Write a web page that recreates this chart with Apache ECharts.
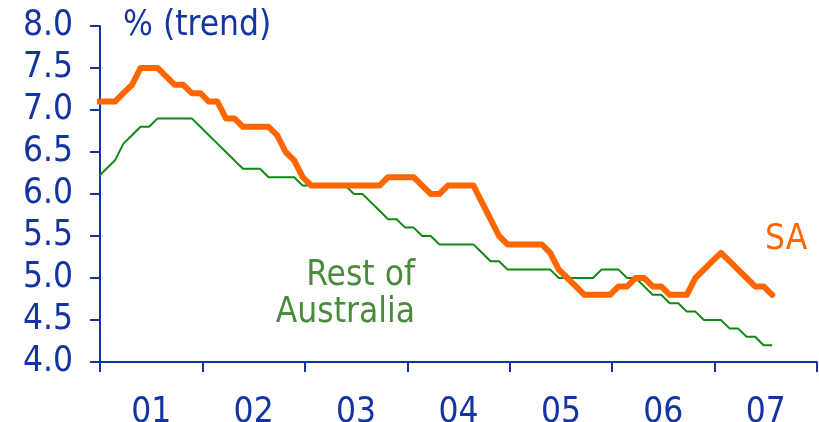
<!DOCTYPE html>
<html>
<head>
<meta charset="utf-8">
<script src="https://cdn.jsdelivr.net/npm/echarts@6/dist/echarts.min.js"></script>
<style>
  html, body { margin: 0; padding: 0; background: #fff; }
  #chart { width: 819px; height: 422px; }
</style>
</head>
<body>
<div id="chart"></div>
<script>
// year labels on the x axis
var years = ['01', '02', '03', '04', '05', '06', '07'];
// monthly trend values, %
var sa = [
  7.1, 7.1, 7.1, 7.2, 7.3, 7.5, 7.5, 7.5, 7.4, 7.3, 7.3, 7.2,
  7.2, 7.1, 7.1, 6.9, 6.9, 6.8, 6.8, 6.8, 6.8, 6.7, 6.5, 6.4,
  6.2, 6.1, 6.1, 6.1, 6.1, 6.1, 6.1, 6.1, 6.1, 6.1, 6.2, 6.2,
  6.2, 6.2, 6.1, 6.0, 6.0, 6.1, 6.1, 6.1, 6.1, 5.9, 5.7, 5.5,
  5.4, 5.4, 5.4, 5.4, 5.4, 5.3, 5.1, 5.0, 4.9, 4.8, 4.8, 4.8,
  4.8, 4.9, 4.9, 5.0, 5.0, 4.9, 4.9, 4.8, 4.8, 4.8, 5.0, 5.1,
  5.2, 5.3, 5.2, 5.1, 5.0, 4.9, 4.9, 4.8
];
var rest = [
  6.2, 6.3, 6.4, 6.6, 6.7, 6.8, 6.8, 6.9, 6.9, 6.9, 6.9, 6.9,
  6.8, 6.7, 6.6, 6.5, 6.4, 6.3, 6.3, 6.3, 6.2, 6.2, 6.2, 6.2,
  6.1, 6.1, 6.1, 6.1, 6.1, 6.1, 6.0, 6.0, 5.9, 5.8, 5.7, 5.7,
  5.6, 5.6, 5.5, 5.5, 5.4, 5.4, 5.4, 5.4, 5.4, 5.3, 5.2, 5.2,
  5.1, 5.1, 5.1, 5.1, 5.1, 5.1, 5.0, 5.0, 5.0, 5.0, 5.0, 5.1,
  5.1, 5.1, 5.0, 5.0, 4.9, 4.8, 4.8, 4.7, 4.7, 4.6, 4.6, 4.5,
  4.5, 4.5, 4.4, 4.4, 4.3, 4.3, 4.2, 4.2
];

var blue = '#1434a4';
var font = 'DejaVu Sans Condensed';
var textFont = '35px "DejaVu Sans Condensed"';

function pairs(arr) {
  return arr.map(function (v, i) { return [i, v]; });
}

var chart = echarts.init(document.getElementById('chart'));

var option = {
  animation: false,
  grid: { left: 100, right: 2, top: 26, bottom: 60, containLabel: false, outerBoundsMode: 'none' },
  xAxis: [
    {
      type: 'category',
      data: years,
      boundaryGap: true,
      axisLine: { show: true, lineStyle: { color: blue, width: 2 } },
      axisTick: { show: true, length: 10, lineStyle: { color: blue, width: 2 } },
      axisLabel: { color: blue, fontSize: 35, fontFamily: font, margin: 33 },
      splitLine: { show: false }
    },
    {
      type: 'value',
      min: 0.25,
      max: 84.25,
      show: false
    }
  ],
  yAxis: {
    type: 'value',
    min: 4,
    max: 8,
    interval: 0.5,
    axisLine: { show: true, lineStyle: { color: blue, width: 2 } },
    axisTick: { show: true, length: 10, lineStyle: { color: blue, width: 2 } },
    axisLabel: {
      color: blue, fontSize: 35, fontFamily: font, margin: 27,
      formatter: function (v) { return v.toFixed(1); }
    },
    splitLine: { show: false }
  },
  graphic: [
    { type: 'text', x: 123, y: 26, style: { text: '% (trend)', fill: blue, font: textFont, verticalAlign: 'middle' } },
    { type: 'text', x: 765, y: 240, style: { text: 'SA', fill: '#ff6600', font: textFont, verticalAlign: 'middle' } },
    { type: 'text', x: 415, y: 276, style: { text: 'Rest of', fill: '#4a8b3b', font: textFont, align: 'right', verticalAlign: 'middle' } },
    { type: 'text', x: 415, y: 313, style: { text: 'Australia', fill: '#4a8b3b', font: textFont, align: 'right', verticalAlign: 'middle' } }
  ],
  series: [
    {
      name: 'Rest of Australia',
      type: 'line',
      xAxisIndex: 1,
      data: pairs(rest),
      symbol: 'none',
      clip: false,
      lineStyle: { color: '#118811', width: 2 }
    },
    {
      name: 'SA',
      type: 'line',
      xAxisIndex: 1,
      data: pairs(sa),
      symbol: 'none',
      clip: false,
      lineStyle: { color: '#ff6600', width: 6, join: 'round', cap: 'round' }
    }
  ]
};

chart.setOption(option);
</script>
</body>
</html>
